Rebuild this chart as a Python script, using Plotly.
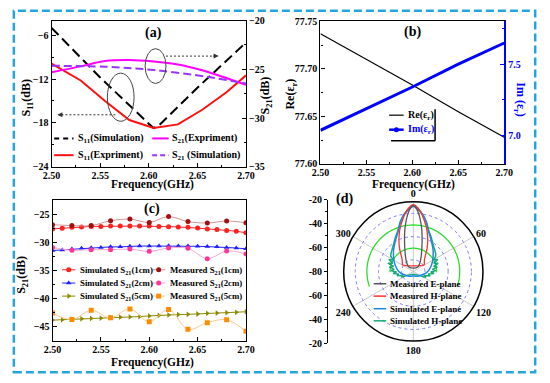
import plotly.graph_objects as go
import numpy as np

W, H = 550, 383
FONT = "Liberation Serif"


def px(x):
    return x / W


def py(y):
    return 1 - y / H


# ---------------- Panel (a) data ----------------
f_s11_sim = [2.50, 2.55, 2.60, 2.605, 2.61, 2.65, 2.70]
s11_sim = [-5.0, -11.8, -18.1, -18.7, -18.4, -13.2, -7.0]
f_s11_exp = [2.500, 2.530, 2.555, 2.580, 2.605, 2.630, 2.655, 2.680, 2.700]
s11_exp = [-9.9, -12.2, -15.0, -17.6, -18.7, -18.2, -16.2, -13.8, -11.5]
f_s21_exp = [2.50, 2.53, 2.555, 2.58, 2.605, 2.63, 2.655, 2.70]
s21_exp = [-25.3, -24.7, -24.15, -24.05, -24.2, -24.5, -25.1, -26.6]
f_s21_sim = [2.50, 2.555, 2.605, 2.662, 2.70]
s21_sim = [-24.64, -24.74, -25.07, -25.8, -26.46]

# ---------------- Panel (b) data ----------------
f_eps = [2.50, 2.55, 2.60, 2.65, 2.70]
re_eps = [77.737, 77.710, 77.683, 77.655, 77.628]
im_eps = [7.036, 7.19, 7.34, 7.50, 7.649]

# ---------------- Panel (c) data ----------------
f_sim = [2.50, 2.51, 2.52, 2.53, 2.54, 2.55, 2.56, 2.57, 2.58, 2.59, 2.60,
         2.61, 2.62, 2.63, 2.64, 2.65, 2.66, 2.67, 2.68, 2.69, 2.70]
sim_1cm = [-27.6, -27.5, -27.3, -27.25, -27.15, -27.15, -27.1, -27.1, -27.1, -27.1, -27.1,
           -27.15, -27.2, -27.25, -27.3, -27.45, -27.6, -27.7, -27.9, -28.0, -28.3]
sim_2cm = [-31.45, -31.35, -31.2, -31.05, -30.95, -30.9, -30.8, -30.8, -30.7, -30.65, -30.65,
           -30.65, -30.6, -30.65, -30.65, -30.7, -30.75, -30.8, -30.9, -31.0, -31.15]
sim_5cm = [-43.85, -43.79, -43.68, -43.62, -43.56, -43.51, -43.39, -43.33, -43.28, -43.22, -43.10,
           -42.99, -42.93, -42.87, -42.82, -42.76, -42.64, -42.59, -42.53, -42.47, -42.36]
f_meas = [2.50, 2.52, 2.54, 2.56, 2.58, 2.60, 2.62, 2.64, 2.66, 2.68, 2.70]
meas_1cm = [-26.85, -27.0, -27.0, -26.15, -25.85, -26.45, -25.4, -26.3, -26.55, -26.2, -26.5]
meas_2cm = [-30.9, -31.4, -31.3, -31.3, -31.2, -31.6, -31.0, -31.05, -32.9, -31.55, -32.05]
meas_5cm = [-42.6, -43.75, -42.1, -43.45, -41.85, -44.15, -41.95, -45.5, -44.3, -43.8, -45.85]

# ---------------- Panel (d) data ----------------
mE_theta = [-45, -38, -30, -25, -20, -16, -12, -9, -6, -3, 0, 3, 6, 9, 12, 16, 20, 25, 30, 38, 45, -45]
mE_r = [-75, -71, -67, -63.5, -58.5, -52.5, -44.5, -38, -31.5, -26, -23.3,
        -26, -31.5, -38, -44.5, -52.5, -58.5, -63.5, -67, -71, -75, -75]
mH_theta = [-58, -52, -42, -35, -30, -25, -21, -17, -12, -8, -4, 0,
            4, 8, 12, 17, 21, 25, 30, 35, 42, 52, 58, -58]
mH_r = [-69, -68, -65.5, -61, -56, -50.7, -46, -41, -35, -29.5, -25, -22.5,
        -25, -29.5, -35, -41, -46, -50.7, -56, -61, -65.5, -68, -69, -69]
sE_theta = [0, 5, 10, 15, 20, 27, 34, 43, 53, 63, 75, 90, 108, 130, 155, 180,
            205, 230, 252, 270, 285, 297, 307, 317, 326, 333, 340, 345, 350, 355, 360]
sE_r = [-23.8, -27, -31, -36.5, -42.5, -47.5, -51.3, -55, -58.7, -61.5, -64.4, -67.5, -71.3, -74, -75.5, -76,
        -75.5, -74, -71.3, -67.5, -64.4, -61.5, -58.7, -55, -51.3, -47.5, -42.5, -36.5, -31, -27, -23.8]
sH_theta = [0, 5, 10, 15, 21, 28, 35, 45, 52, 56, 60, 64, 68, 72, 76, 80, 84, 88, 92, 96, 100, 105, 110, 115,
            120, 130, 150, 180, 210, 230, 240, 245, 250, 255, 260, 264, 268, 272, 276, 280, 284, 288, 292,
            296, 300, 304, 308, 315, 325, 332, 339, 345, 350, 355, 360]
sH_r = [-23, -26.5, -30.7, -36, -42.6, -47, -50.7, -54, -55.5, -56.9, -60, -56.5, -61, -57.5, -62, -59, -63.5,
        -60.5, -65, -62, -67, -65, -70, -68, -72, -75, -77, -77.3, -77, -75, -72, -68.5, -70.5, -65.5, -67,
        -62.5, -65.5, -60.5, -63.5, -59, -62.5, -57, -61, -56.5, -60.5, -56.5, -55.5, -54, -50.7, -47,
        -42.6, -36, -30.7, -26.5, -23]
arc_levels = [-40, -60]
arc_spans = [109, 92]
grid_dotted = [-70, -50, -30]
d_tick_labels = ["-20", "-40", "-60", "-80", "-60", "-40", "-20"]

fig = go.Figure()

# ---- (a)
fig.add_trace(go.Scatter(x=f_s11_sim, y=s11_sim, mode="lines", xaxis="x", yaxis="y",
                         line=dict(color="black", width=2, dash="10px,5px")))
fig.add_trace(go.Scatter(x=f_s11_exp, y=s11_exp, mode="lines", xaxis="x", yaxis="y",
                         line=dict(color="#FF1010", width=2)))
fig.add_trace(go.Scatter(x=f_s21_exp, y=s21_exp, mode="lines", xaxis="x", yaxis="y2",
                         line=dict(color="#FF00FF", width=2, shape="spline")))
fig.add_trace(go.Scatter(x=f_s21_sim, y=s21_sim, mode="lines", xaxis="x", yaxis="y2",
                         line=dict(color="#9933FF", width=2, dash="8px,4px", shape="spline")))

# ---- (b)
fig.add_trace(go.Scatter(x=f_eps, y=re_eps, mode="lines", xaxis="x3", yaxis="y3",
                         line=dict(color="black", width=1.2)))
fig.add_trace(go.Scatter(x=f_eps, y=im_eps, mode="lines", xaxis="x3", yaxis="y4",
                         line=dict(color="#0000FF", width=3)))

# ---- (c)
c_styles = [
    (f_sim, sim_1cm, "#FF2020", "#FF2020", "circle", False),
    (f_meas, meas_1cm, "#A01010", "#D49494", "circle", True),
    (f_sim, sim_2cm, "#2020FF", "#2020FF", "triangle-up", False),
    (f_meas, meas_2cm, "#FF3399", "#F9A6CF", "circle", True),
    (f_sim, sim_5cm, "#8A8A00", "#8A8A00", "triangle-right", False),
    (f_meas, meas_5cm, "#FF8C00", "#F8C890", "square", True),
]
for xs, ys, mc, lc, sym, smooth in c_styles:
    fig.add_trace(go.Scatter(x=xs, y=ys, mode="lines+markers", xaxis="x5", yaxis="y5",
                             line=dict(color=lc, width=1, shape="spline" if smooth else "linear"),
                             marker=dict(color=mc, symbol=sym, size=5, line=dict(width=0))))

# ---- (d) polar
for lvl, span in zip(arc_levels, arc_spans):
    th = np.linspace(-span, span, 120)
    fig.add_trace(go.Scatterpolar(r=[lvl] * len(th), theta=th, mode="lines", subplot="polar",
                                  line=dict(color="#2EDC2E", width=1.3)))
fig.add_trace(go.Scatterpolar(r=sH_r, theta=sH_theta, mode="lines", subplot="polar",
                              line=dict(color="#17A878", width=1.5)))
fig.add_trace(go.Scatterpolar(r=sE_r, theta=sE_theta, mode="lines", subplot="polar",
                              line=dict(color="#1E88E5", width=1.5, shape="spline")))
fig.add_trace(go.Scatterpolar(r=mH_r, theta=mH_theta, mode="lines", subplot="polar",
                              line=dict(color="#FF3030", width=1.3, shape="spline")))
fig.add_trace(go.Scatterpolar(r=mE_r, theta=mE_theta, mode="lines", subplot="polar",
                              line=dict(color="#555555", width=1.3, shape="spline")))

# dummy for the (d) left axis
fig.add_trace(go.Scatter(x=[0.5], y=[0], mode="markers", xaxis="x6", yaxis="y6",
                         marker=dict(opacity=0), hoverinfo="skip"))

# ---- legend samples drawn in an overlay pixel axis
def sample(x0, x1, y, color, width=2, dash=None, symbol=None, lcolor=None):
    fig.add_trace(go.Scatter(x=[x0, x1], y=[y, y], mode="lines", xaxis="x7", yaxis="y7",
                             line=dict(color=lcolor or color, width=width, dash=dash), hoverinfo="skip"))
    if symbol:
        fig.add_trace(go.Scatter(x=[(x0 + x1) / 2], y=[y], mode="markers", xaxis="x7", yaxis="y7",
                                 marker=dict(color=color, symbol=symbol, size=5), hoverinfo="skip"))

sample(46.7, 66.7, 136.7, "black", 2, "5px,4px")
sample(148, 165, 136.7, "#FF00FF", 2)
sample(46.7, 66.7, 154, "#FF1010", 2)
sample(148, 165, 154, "#9933FF", 2, "5px,3px")
sample(393, 408, 112.7, "black", 1.2)
sample(393, 408, 127.7, "#0000FF", 2.5, None, "circle")
c_rows = [272.3, 286, 299.5]
for i in range(3):
    _, _, mc, lc, sym, _ = c_styles[2 * i]
    sample(55, 68.5, c_rows[i], mc, 1, None, sym, lc)
    _, _, mc, lc, sym, _ = c_styles[2 * i + 1]
    sample(148, 161.5, c_rows[i], mc, 1, None, sym, lc)

fig.update_layout(showlegend=False)

tf = dict(family=FONT, size=10, color="black", weight="bold")
common = dict(showline=True, linecolor="black", linewidth=1.2, ticks="inside", ticklen=4, tickwidth=1,
              tickcolor="black", showgrid=False, zeroline=False, tickfont=tf)
xcommon = dict(common, ticklabelstandoff=-1)

fig.update_layout(
    width=W, height=H, margin=dict(l=0, r=0, t=0, b=0),
    paper_bgcolor="white", plot_bgcolor="rgba(0,0,0,0)",
    xaxis=dict(xcommon, domain=[px(44), px(245)], range=[2.5, 2.7], dtick=0.05, tick0=2.5, tickformat=".2f",
               mirror=True, anchor="y", minor=dict(ticks="inside", ticklen=2, dtick=0.025, tick0=2.5)),
    yaxis=dict(common, domain=[py(166), py(15)], range=[-24, -4], dtick=6, tick0=-24, anchor="x",
               minor=dict(ticks="inside", ticklen=2, dtick=3, tick0=-24)),
    yaxis2=dict(common, overlaying="y", side="right", anchor="x", range=[-35, -20], dtick=5, tick0=-35,
                minor=dict(ticks="inside", ticklen=2, dtick=2.5, tick0=-35)),
    xaxis3=dict(xcommon, domain=[px(322), px(512)], range=[2.5, 2.7], dtick=0.05, tick0=2.5, tickformat=".2f",
                mirror=True, anchor="y3", minor=dict(ticks="inside", ticklen=2, dtick=0.025, tick0=2.5)),
    yaxis3=dict(common, domain=[py(163), py(16)], range=[77.6, 77.75], dtick=0.05, tick0=77.6,
                tickformat=".2f", anchor="x3", minor=dict(ticks="inside", ticklen=2, dtick=0.025, tick0=77.6)),
    yaxis4=dict(common, overlaying="y3", side="right", anchor="x3", range=[6.8, 7.8], tickvals=[7.0, 7.5],
                tickformat=".1f", linecolor="#0000FF", linewidth=2, tickcolor="#0000FF",
                tickfont=dict(tf, color="#0000FF"),
                minor=dict(ticks="inside", ticklen=2, dtick=0.25, tick0=7.0, tickcolor="#0000FF")),
    xaxis5=dict(xcommon, domain=[px(45), px(245)], range=[2.5, 2.7], dtick=0.05, tick0=2.5, tickformat=".2f",
                mirror=True, anchor="y5", minor=dict(ticks="inside", ticklen=2, dtick=0.025, tick0=2.5)),
    yaxis5=dict(common, domain=[py(346), py(200)], range=[-47.6, -22.4], dtick=5, tick0=-45, mirror=True,
                anchor="x5", minor=dict(ticks="inside", ticklen=2, dtick=2.5, tick0=-45)),
    xaxis6=dict(domain=[px(330), px(340)], anchor="y6", visible=False, range=[0, 1]),
    yaxis6=dict(common, domain=[py(348), py(200)], anchor="x6", range=[-60, 60],
                tickvals=[60, 40, 20, 0, -20, -40, -60], ticktext=d_tick_labels, ticks="outside", ticklen=3,
                minor=dict(ticks="outside", ticklen=2, dtick=10)),
    xaxis7=dict(domain=[0, 1], range=[0, W], visible=False, anchor="y7"),
    yaxis7=dict(domain=[0, 1], range=[H, 0], visible=False, anchor="x7"),
    polar=dict(
        domain=dict(x=[px(346), px(490)], y=[py(346), py(202)]),
        bgcolor="rgba(0,0,0,0)",
        radialaxis=dict(range=[-80, -20], showticklabels=False, ticks="", showline=False,
                        tickvals=grid_dotted, gridcolor="#7B7BFF", griddash="dot", gridwidth=1),
        angularaxis=dict(rotation=90, direction="clockwise", tickvals=[0, 60, 120, 180, 240, 300],
                         ticks="", showline=True, linecolor="black", linewidth=1.5,
                         gridcolor="#C8C8C8", gridwidth=1, tickfont=tf),
    ),
)

# ---- annotations
anns = []


def ann(text, x, y, size=10, angle=0, color="black", xanchor="center"):
    anns.append(dict(text=text, x=px(x), y=py(y), xref="paper", yref="paper", showarrow=False,
                     font=dict(family=FONT, size=size, color=color, weight="bold"), textangle=angle,
                     xanchor=xanchor, yanchor="middle"))


ann("(a)", 149, 28, 14)
ann("(b)", 417, 27, 14)
ann("(c)", 148, 210, 14)
ann("(d)", 347, 199, 14)
ann("Frequency(GHz)", 148, 184, 11.5)
ann("Frequency(GHz)", 418, 184, 11.5)
ann("Frequency(GHz)", 148, 368, 11.5)
ann("S<sub>11</sub>(dB)", 19, 95, 12, -90)
ann("S<sub>21</sub>(dB)", 266, 92, 12, -90)
ann("Re(ε<sub>r</sub>)", 292, 91, 12, -90)
ann("Im (ε<sub>r</sub>)", 528, 97, 12, 90, "#0000FF")
ann("S<sub>21</sub>(dB)", 14, 278, 12, -90)
# legend (a)
ann("S<sub>11</sub>(Simulation)", 69.5, 137, 10, xanchor="left")
ann("S<sub>21</sub>(Expriment)", 166.5, 137, 10, xanchor="left")
ann("S<sub>11</sub>(Expriment)", 69.5, 154.5, 10, xanchor="left")
ann("S<sub>21</sub> (Simulation)", 166.5, 154.5, 10, xanchor="left")
# legend (b)
ann("Re(ε<sub>r</sub>)", 410, 113, 10, xanchor="left")
ann("Im(ε<sub>r</sub>)", 410, 128, 10, color="#0000FF", xanchor="left")
# legend (c)
c_texts = ["Simulated S<sub>21</sub>(1cm)", "Measured S<sub>21</sub>(1cm)",
           "Simulated S<sub>21</sub>(2cm)", "Measured S<sub>21</sub>(2cm)",
           "Simulated S<sub>21</sub>(5cm)", "Measured S<sub>21</sub>(5cm)"]
for i in range(3):
    ann(c_texts[2 * i], 71, c_rows[i] + 0.5, 8.8, xanchor="left")
    ann(c_texts[2 * i + 1], 164, c_rows[i] + 0.5, 8.8, xanchor="left")
# legend (d)
d_texts = ["Measured E-plane", "Measured H-plane", "Simulated E-plane", "Simulated H-plane"]
d_colors = ["#555555", "#FF3030", "#1E88E5", "#17A878"]
d_rows = [286.7, 299.5, 312.5, 325]
shapes = []
for t, c, yy in zip(d_texts, d_colors, d_rows):
    ann(t, 392, yy, 9, xanchor="left")
    shapes.append(dict(type="line", xref="paper", yref="paper", x0=px(377), x1=px(390), y0=py(yy), y1=py(yy),
                       line=dict(color=c, width=1.5)))

# arrowheads for (a)
for hx, hy, axo in [(50, 112.3, -7), (216.7, 51.7, 7)]:
    anns.append(dict(x=px(hx), y=py(hy), xref="paper", yref="paper", text="", showarrow=True,
                     ax=axo * -1, ay=0, arrowhead=2, arrowsize=1, arrowwidth=1, arrowcolor="#333333"))

fig.update_layout(annotations=anns)

# ellipses and dotted arrow lines in (a)
shapes += [
    dict(type="circle", xref="paper", yref="paper", x0=px(101.7), x1=px(129.3), y0=py(119), y1=py(69.3),
         line=dict(color="#444444", width=1)),
    dict(type="circle", xref="paper", yref="paper", x0=px(140.7), x1=px(162.3), y0=py(80), y1=py(44),
         line=dict(color="#444444", width=1)),
    dict(type="line", xref="paper", yref="paper", x0=px(110), x1=px(52), y0=py(112.3), y1=py(112.3),
         line=dict(color="#333333", width=1, dash="2px,2px")),
    dict(type="line", xref="paper", yref="paper", x0=px(162.3), x1=px(214), y0=py(51.7), y1=py(51.7),
         line=dict(color="#333333", width=1, dash="2px,2px")),
    # legend (b) frame
    dict(type="line", xref="paper", yref="paper", x0=px(440.5), x1=px(440.5), y0=py(106.7), y1=py(139),
         line=dict(color="black", width=1.5)),
    dict(type="line", xref="paper", yref="paper", x0=px(395), x1=px(440.5), y0=py(139), y1=py(139),
         line=dict(color="black", width=1.5)),
    # outer dashed frame
    dict(type="rect", xref="paper", yref="paper", x0=px(5), x1=px(544), y0=py(378), y1=py(5),
         line=dict(color="#26A4E2", width=2.5, dash="8px,4px")),
]
fig.update_layout(shapes=shapes)

fig.write_html("out.html", config={"displayModeBar": False})

# remove the default page margin so the figure sits at the top-left corner
with open("out.html", "r", encoding="utf-8") as fh:
    html = fh.read()
html = html.replace("<body>", '<body style="margin:0;padding:0;overflow:hidden;">', 1)
with open("out.html", "w", encoding="utf-8") as fh:
    fh.write(html)
